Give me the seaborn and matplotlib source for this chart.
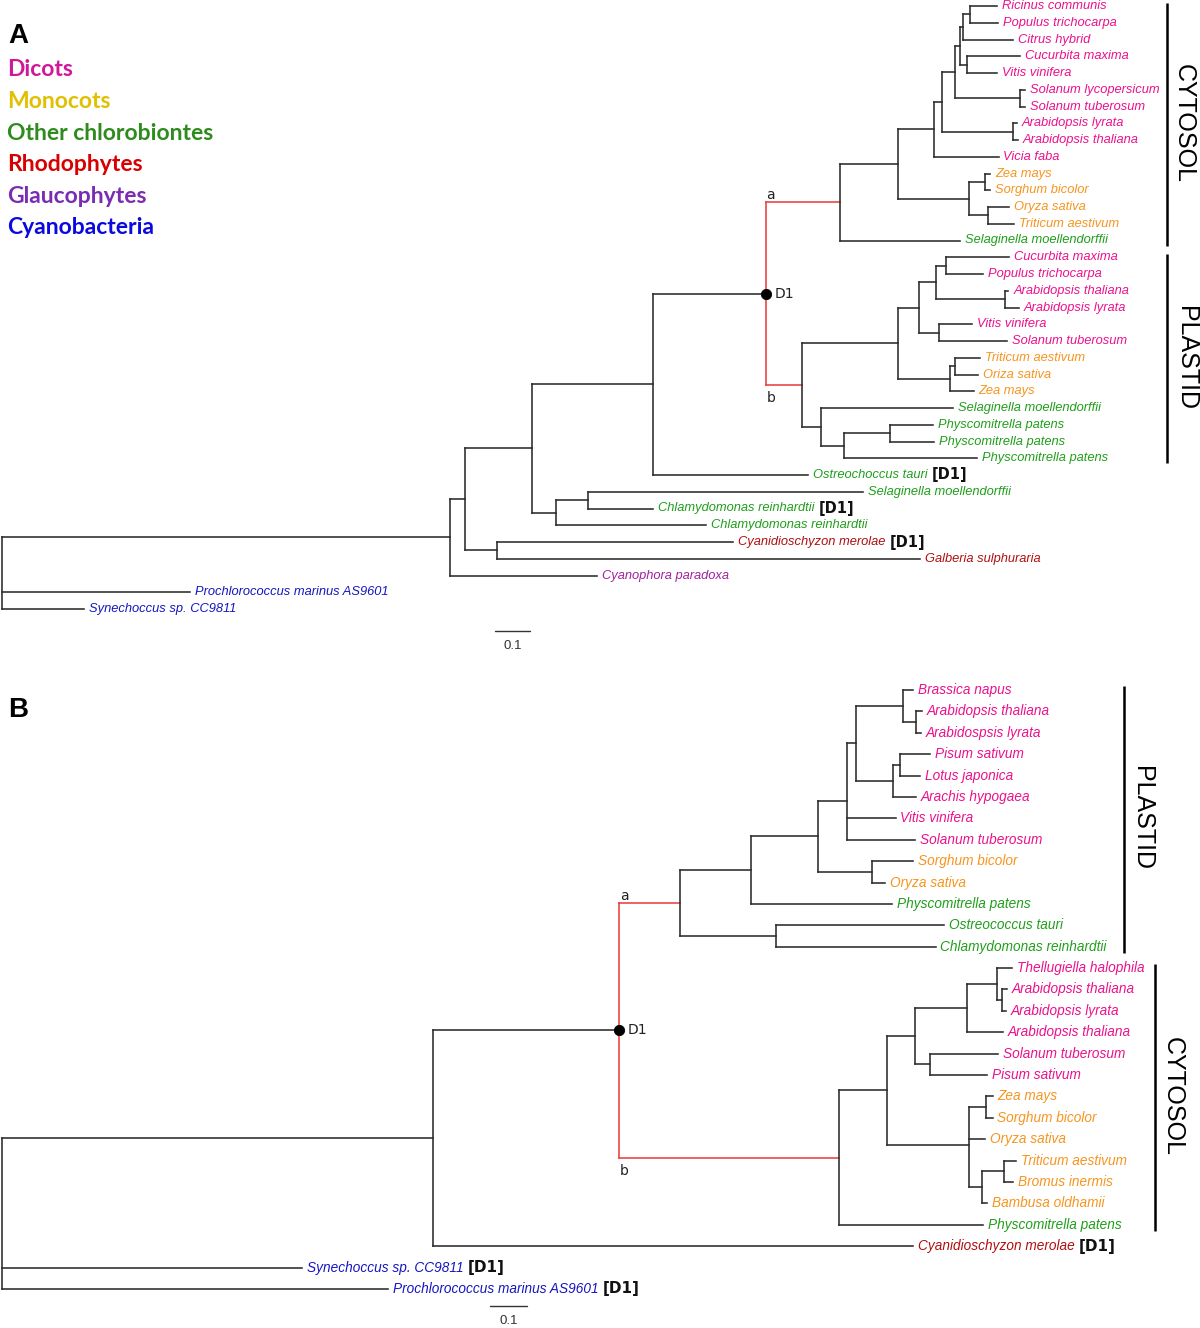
import numpy as np
import matplotlib
matplotlib.use("Agg")
import matplotlib.pyplot as plt
from matplotlib.collections import LineCollection
from matplotlib import transforms
import seaborn as sns

sns.set_style("white")
plt.rcParams['font.family'] = ['Liberation Sans', 'DejaVu Sans']

### data ###
# groups (legend order) and the species that belong to them
GROUPS = ["Dicots", "Monocots", "Other chlorobiontes", "Rhodophytes", "Glaucophytes", "Cyanobacteria"]
LEGEND_COLORS = ["#d0189a", "#e0c000", "#2e8b1e", "#d80000", "#7a2db4", "#0a0ae0"]
LEAF_COLORS = ["#ec108c", "#f7941d", "#1f9e1a", "#b00e0e", "#a0209f", "#1515c0"]

DICOTS = ["Ricinus communis", "Populus trichocarpa", "Citrus hybrid", "Cucurbita maxima",
          "Vitis vinifera", "Solanum lycopersicum", "Solanum tuberosum", "Arabidopsis lyrata",
          "Arabidopsis thaliana", "Vicia faba", "Brassica napus", "Arabidospsis lyrata",
          "Pisum sativum", "Lotus japonica", "Arachis hypogaea", "Thellugiella halophila"]
MONOCOTS = ["Zea mays", "Sorghum bicolor", "Oryza sativa", "Oriza sativa", "Triticum aestivum",
            "Bromus inermis", "Bambusa oldhamii"]
OTHER = ["Selaginella moellendorffii", "Physcomitrella patens", "Ostreochoccus tauri",
         "Ostreococcus tauri", "Chlamydomonas reinhardtii"]
RHODO = ["Cyanidioschyzon merolae", "Galberia sulphuraria"]
GLAUCO = ["Cyanophora paradoxa"]
CYANO = ["Prochlorococcus marinus AS9601", "Synechoccus sp. CC9811"]
GROUP_MEMBERS = [DICOTS, MONOCOTS, OTHER, RHODO, GLAUCO, CYANO]

# tree A (branch lengths in substitutions/site, '*' marks a [D1] sequence)
A_RP = "(Ricinus communis:0.076,Populus trichocarpa:0.080)"
A_C6 = "(" + A_RP + ":0.019,Citrus hybrid:0.141)"
A_CV = "(Cucurbita maxima:0.151,Vitis vinifera:0.085)"
A_C5 = "(" + A_C6 + ":0.009," + A_CV + ":0.019)"
A_SOL = "(Solanum lycopersicum:0.016,Solanum tuberosum:0.016)"
A_C4 = "(" + A_C5 + ":0.016," + A_SOL + ":0.185)"
A_ARA = "(Arabidopsis lyrata:0.011,Arabidopsis thaliana:0.014)"
A_C3 = "(" + A_C4 + ":0.036," + A_ARA + ":0.203)"
A_C2 = "(" + A_C3 + ":0.021,Vicia faba:0.182)"
A_MONO = "((Zea mays:0.014,Sorghum bicolor:0.014):0.047,(Oryza sativa:0.060,Triticum aestivum:0.074):0.054)"
A_C1 = "(" + A_C2 + ":0.103," + A_MONO + ":0.200)"
A_CLADE_A = "(" + A_C1 + ":0.165,Selaginella moellendorffii:0.341)a"

A_CP = "(Cucurbita maxima:0.180,Populus trichocarpa:0.106)"
A_ARP = "(Arabidopsis thaliana:0.009,Arabidopsis lyrata:0.038)"
A_P4 = "(" + A_CP + ":0.029," + A_ARP + ":0.197)"
A_VS = "(Vitis vinifera:0.095,Solanum tuberosum:0.194)"
A_P3 = "(" + A_P4 + ":0.047," + A_VS + ":0.055)"
A_PM = "((Triticum aestivum:0.073,Oriza sativa:0.068):0.014,Zea mays:0.068)"
A_P1 = "(" + A_P3 + ":0.061," + A_PM + ":0.147)"
A_PP = "(Physcomitrella patens:0.123,Physcomitrella patens:0.126)"
A_P5 = "(" + A_PP + ":0.132,Physcomitrella patens:0.378)"
A_P2 = "(Selaginella moellendorffii:0.376," + A_P5 + ":0.064)"
A_CLADE_B = "(" + A_P1 + ":0.273," + A_P2 + ":0.055)b"

A_D1 = "(" + A_CLADE_A + ":0.211," + A_CLADE_B + ":0.102)D1"
A_S = "(" + A_D1 + ":0.320,Ostreochoccus tauri*:0.439)"
A_U = "(Selaginella moellendorffii:0.783,Chlamydomonas reinhardtii*:0.185)"
A_T = "(" + A_U + ":0.089,Chlamydomonas reinhardtii:0.426)"
A_R = "(" + A_S + ":0.345," + A_T + ":0.070)"
A_RED = "(Cyanidioschyzon merolae*:0.670,Galberia sulphuraria:1.202)"
A_Q = "(" + A_R + ":0.189," + A_RED + ":0.091)"
A_P = "(" + A_Q + ":0.043,Cyanophora paradoxa:0.418)"
TREE_A = "(" + A_P + ":1.273,Prochlorococcus marinus AS9601:0.534,Synechoccus sp. CC9811:0.233);"

# tree B
B_BA = "(Brassica napus:0.025,(Arabidopsis thaliana:0.016,Arabidospsis lyrata:0.014):0.034)"
B_LEG = "((Pisum sativum:0.081,Lotus japonica:0.054):0.018,Arachis hypogaea:0.061)"
B_X1 = "(" + B_BA + ":0.128," + B_LEG + ":0.101)"
B_X2 = "(" + B_X1 + ":0.025,Vitis vinifera:0.132,Solanum tuberosum:0.185)"
B_SO = "(Sorghum bicolor:0.111,Oryza sativa:0.036)"
B_X3 = "(" + B_X2 + ":0.077," + B_SO + ":0.144)"
B_X4 = "(" + B_X3 + ":0.183,Physcomitrella patens:0.383)"
B_OC = "(Ostreococcus tauri:0.455,Chlamydomonas reinhardtii:0.432)"
B_CLADE_A = "(" + B_X4 + ":0.191," + B_OC + ":0.259)a"

B_Y5 = "(Thellugiella halophila:0.041,(Arabidopsis thaliana:0.014,Arabidopsis lyrata:0.011):0.014)"
B_Y4 = "(" + B_Y5 + ":0.081,Arabidopsis thaliana:0.099)"
B_SP = "(Solanum tuberosum:0.183,Pisum sativum:0.155)"
B_Y2 = "(" + B_Y4 + ":0.140," + B_SP + ":0.041)"
B_TB = "((Triticum aestivum:0.032,Bromus inermis:0.025):0.059,Bambusa oldhamii:0.014)"
B_Y3 = "((Zea mays:0.019,Sorghum bicolor:0.019):0.045,Oryza sativa:0.043," + B_TB + ":0.036)"
B_Y1 = "(" + B_Y2 + ":0.076," + B_Y3 + ":0.222)"
B_CLADE_B = "(" + B_Y1 + ":0.128,Physcomitrella patens:0.389)b"

B_D1 = "(" + B_CLADE_A + ":0.164," + B_CLADE_B + ":0.595)D1"
B_N = "(" + B_D1 + ":0.504,Cyanidioschyzon merolae*:1.298)"
TREE_B = "(" + B_N + ":1.165,Synechoccus sp. CC9811*:0.811,Prochlorococcus marinus AS9601*:1.045);"

# compartment brackets: (label, first leaf, last leaf)
BRACKETS_A = [("CYTOSOL", 0, 14), ("PLASTID", 15, 27)]
BRACKETS_B = [("PLASTID", 0, 12), ("CYTOSOL", 13, 25)]


### tree helpers ###
def parse_newick(s):
    pos = 0

    def node():
        nonlocal pos
        n = {'name': '', 'len': 0.0, 'children': []}
        if s[pos] == '(':
            pos += 1
            n['children'].append(node())
            while s[pos] == ',':
                pos += 1
                n['children'].append(node())
            pos += 1
        start = pos
        while s[pos] not in ':,);':
            pos += 1
        n['name'] = s[start:pos]
        if s[pos] == ':':
            pos += 1
            start = pos
            while s[pos] not in ',);':
                pos += 1
            n['len'] = float(s[start:pos])
        return n

    return node()


def layout(root):
    leaves = []

    def walk(n, x0):
        n['x'] = x0 + n['len']
        if not n['children']:
            n['y'] = len(leaves)
            leaves.append(n)
        else:
            for c in n['children']:
                walk(c, n['x'])
            n['y'] = np.mean([c['y'] for c in n['children']])

    walk(root, 0.0)
    return leaves


def leaf_color(name):
    for i, members in enumerate(GROUP_MEMBERS):
        if name in members:
            return LEAF_COLORS[i]
    return 'black'


def draw_tree(ax, tree, fs, tag_fs):
    root = parse_newick(tree)
    leaves = layout(root)
    segs, cols = [], []
    d1 = None
    stack = [root]
    while stack:
        n = stack.pop()
        if not n['children']:
            continue
        if n['name'] == 'D1':
            d1 = n
        ys = [c['y'] for c in n['children']]
        segs.append([(n['x'], min(ys)), (n['x'], max(ys))])
        cols.append('#e8403c' if n['name'] == 'D1' else '#2b2b2b')
        for c in n['children']:
            segs.append([(n['x'], c['y']), (c['x'], c['y'])])
            cols.append('#e8403c' if c['name'] in ('a', 'b') else '#2b2b2b')
            stack.append(c)
    ax.add_collection(LineCollection(segs, colors=cols, linewidths=1.15, capstyle='projecting'))

    for lf in leaves:
        name = lf['name'].rstrip('*')
        t = ax.annotate(name, (lf['x'], lf['y']), xytext=(3.5, 0), textcoords='offset points',
                        ha='left', va='center', style='italic', fontsize=fs,
                        color=leaf_color(name))
        if lf['name'].endswith('*'):
            ax.annotate("[D1]", xy=(1, 0.5), xycoords=t, xytext=(3, 0), textcoords='offset points',
                        ha='left', va='center', fontsize=tag_fs, fontweight='bold',
                        family='DejaVu Sans', color='#111111')

    # duplication node D1 and its two daughter lineages a / b
    sub = {c['name']: c for c in d1['children']}
    sns.scatterplot(x=[d1['x']], y=[d1['y']], ax=ax, s=55, color='black', edgecolor='black',
                    zorder=5, legend=False)
    ax.annotate("D1", (d1['x'], d1['y']), xytext=(6, 0), textcoords='offset points',
                ha='left', va='center', fontsize=10, family='DejaVu Sans', color='#222222')
    ax.annotate("a", (d1['x'], sub['a']['y']), xytext=(0.5, 0), textcoords='offset points',
                ha='left', va='bottom', fontsize=10, family='DejaVu Sans', color='#222222')
    ax.annotate("b", (d1['x'], sub['b']['y']), xytext=(0.5, -4.5), textcoords='offset points',
                ha='left', va='top', fontsize=10, family='DejaVu Sans', color='#222222')
    return leaves


def brackets(ax, spec, bar_x, text_x):
    tr = transforms.blended_transform_factory(ax.transAxes, ax.transData)
    for (label, i0, i1), bx, tx in zip(spec, bar_x, text_x):
        ax.plot([bx, bx], [i0 - 0.2, i1 + 0.3], transform=tr, color='black', lw=1.8,
                solid_capstyle='butt')
        ax.text(tx, (i0 + i1) / 2, label, transform=tr, rotation=-90, ha='center',
                va='center', fontsize=18, color='black')


def scale_bar(ax, x0, y_line, y_text):
    ax.plot([x0, x0 + 0.1], [y_line, y_line], color='#333333', lw=1.0)
    ax.text(x0 + 0.05, y_text, "0.1", ha='center', va='center', fontsize=9.5, color='#333333')


### figure ###
W, H = 1200, 1328
fig = plt.figure(figsize=(W / 100, H / 100), dpi=100)

# panel A: root at x=2px, 0.1 = 35.2px, leaves from y=6px every 16.75px
axA = fig.add_axes([0, 0.5, 1, 0.5])
sA, rA = 352.0, 2.0
axA.set_xlim(-rA / sA, (W - rA) / sA)
axA.set_ylim((664 - 6) / 16.75, (0 - 6) / 16.75)
draw_tree(axA, TREE_A, 9.3, 10.5)
brackets(axA, BRACKETS_A, [1167 / W, 1167 / W], [1184 / W, 1186 / W])
scale_bar(axA, (495 - rA) / sA, (631 - 6) / 16.75, (646 - 6) / 16.75)
axA.axis('off')

# panel B: root at x=1.7px, 0.1 = 37px, leaves from y=690px every 21.39px
axB = fig.add_axes([0, 0, 1, 0.5])
sB, rB = 370.0, 1.7
axB.set_xlim(-rB / sB, (W - rB) / sB)
axB.set_ylim((1328 - 690) / 21.39, (664 - 690) / 21.39)
draw_tree(axB, TREE_B, 9.8, 11)
brackets(axB, BRACKETS_B, [1124 / W, 1155 / W], [1142 / W, 1173 / W])
scale_bar(axB, (490 - rB) / sB, (1306 - 690) / 21.39, (1321 - 690) / 21.39)
axB.axis('off')

# panel letters and colour key
fig.text(8 / W, 1 - 36 / H, "A", fontsize=20, fontweight='bold', va='center', ha='left',
         color='black')
fig.text(8 / W, 1 - 710 / H, "B", fontsize=20, fontweight='bold', va='center', ha='left',
         color='black')
for i, (g, c) in enumerate(zip(GROUPS, LEGEND_COLORS)):
    fig.text(7 / W, 1 - (70 + 31.6 * i) / H, g, color=c, fontsize=16.5, fontweight='bold',
             family=['Lato', 'DejaVu Sans'], va='center', ha='left')

fig.savefig("out.png", dpi=100)
